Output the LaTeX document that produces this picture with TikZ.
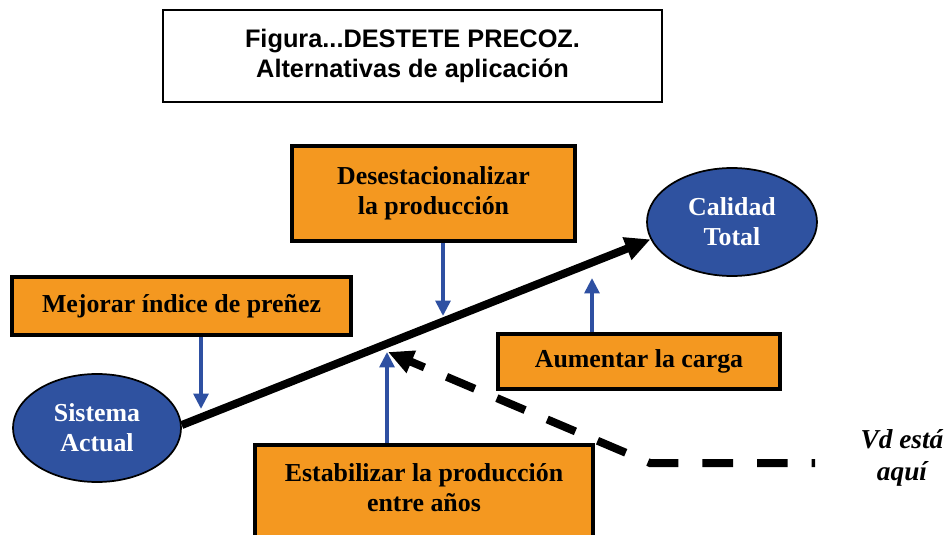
\documentclass[tikz,border=0pt]{standalone}
\usepackage{fontspec}
\setmainfont{Liberation Serif}
\newfontfamily\titlefont{Liberation Sans}
\usetikzlibrary{arrows.meta,shapes.geometric}
\definecolor{boxorange}{RGB}{244,152,32}
\definecolor{ellblue}{RGB}{47,82,160}
\definecolor{arrblue}{RGB}{46,80,162}
\tikzset{
  obox/.style={draw=black, line width=2.8pt, fill=boxorange, inner sep=0pt, align=center,
    font=\bfseries\fontsize{19.4}{22.5}\selectfont},
  bell/.style={ellipse, draw=black, line width=1.3pt, fill=ellblue, inner sep=0pt, align=center,
    text=white, font=\bfseries\fontsize{19.4}{22.5}\selectfont},
  barrow/.style={draw=arrblue, line width=2.8pt, -{Triangle[length=11.5pt,width=11pt]}},
  mainarrow/.style={draw=black, line width=6pt, -{Triangle[length=19pt,width=17pt]}},
  dasharrow/.style={draw=black, line width=6pt, dash pattern=on 23pt off 18pt, dash phase=20.5pt,
    -{Triangle[length=19pt,width=17pt]}},
}
\begin{document}
\begin{tikzpicture}[x=0.75pt,y=-0.75pt]
\clip (0,0) rectangle (951,535);
\fill[white] (0,0) rectangle (951,535);
% title
\node[draw=black, line width=1.7pt, inner sep=0pt, minimum width=374.25pt, minimum height=69pt,
  align=center, font=\titlefont\bfseries\fontsize{19}{22.5}\selectfont] (title) at (412.5,56)
  {Figura...DESTETE PRECOZ.\\Alternativas de aplicación};
% boxes
\node[obox, minimum width=212.25pt, minimum height=71.25pt] (des) at (433.5,193.5)
  {Desestacionalizar\\la producción};
\node[obox, minimum width=254.25pt, minimum height=43.5pt] (mej) at (181.5,306)
  {Mejorar índice de preñez};
\node[obox, minimum width=211.5pt, minimum height=41.25pt] (aum) at (639,361.5)
  {Aumentar la carga};
\node[obox, minimum width=253.5pt, minimum height=75pt] (est) at (424,495) {};
\node[align=center, font=\bfseries\fontsize{19.4}{22.5}\selectfont] (esttext) at (424,488)
  {Estabilizar la producción\\entre años};
% ellipses
\node[bell, minimum width=126pt, minimum height=81pt] (sa) at (97,428) {Sistema\\Actual};
\node[bell, minimum width=127.5pt, minimum height=81pt] (ct) at (732,222) {Calidad\\Total};
% main arrow
\draw[mainarrow] (sa.2) -- (ct.192);
% blue arrows
\coordinate (desend) at (443,316);
\coordinate (mejend) at (201,409);
\coordinate (aumend) at (592,278);
\coordinate (estend) at (387,352);
\draw[barrow] (des.south -| desend) -- (desend);
\draw[barrow] (mej.south -| mejend) -- (mejend);
\draw[barrow] (aum.north -| aumend) -- (aumend);
\draw[barrow] (est.north -| estend) -- (estend);
% dashed arrow
\coordinate (dstart) at (815,463);
\coordinate (dcorner) at (650,463);
\coordinate (dend) at (388,352);
\draw[dasharrow] (dstart) -- (dcorner) -- (dend);
% label
\node[align=center, font=\bfseries\itshape\fontsize{20.5}{24.5}\selectfont] (vd) at (902,458)
  {Vd está\\aquí};
\end{tikzpicture}
\end{document}
